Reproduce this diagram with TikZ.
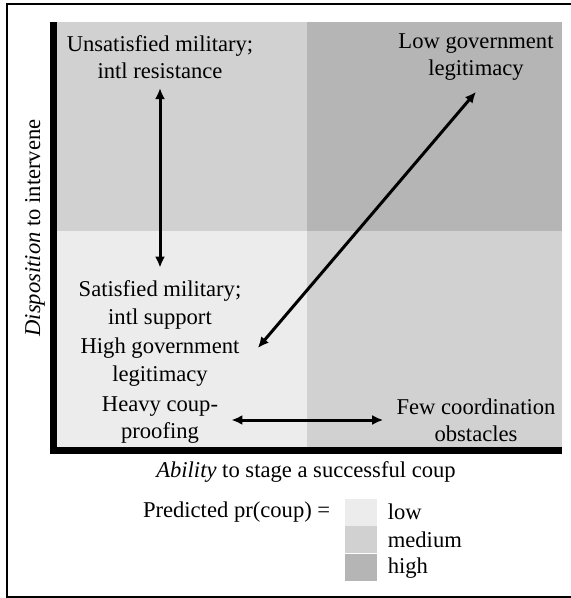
\documentclass[tikz,border=0pt]{standalone}
\usepackage{fontspec}
\setmainfont{Liberation Serif}
\usetikzlibrary{arrows.meta,positioning,calc}
\definecolor{lowpr}{gray}{0.925}
\definecolor{midpr}{gray}{0.82}
\definecolor{highpr}{gray}{0.71}
\begin{document}
\begin{tikzpicture}[x=0.5pt,y=-0.5pt,
  lbl/.style={align=center,font=\fontsize{11.3}{13.6}\selectfont,inner sep=2pt},
  twoway/.style={{Latex[length=5.5pt,width=5pt]}-{Latex[length=5.5pt,width=5pt]},line width=1.5pt},
  key/.style={minimum width=16pt,minimum height=13.5pt,inner sep=0pt}]
\useasboundingbox (0,0) rectangle (570,598);
\draw[line width=1pt] (575,4) -- (7,4) -- (7,597) -- (575,597);
% quadrants
\fill[midpr] (57,22) rectangle (307,231);
\fill[highpr] (307,22) rectangle (562,231);
\fill[lowpr] (57,231) rectangle (307,447);
\fill[midpr] (307,231) rectangle (562,447);
\draw[line width=3.5pt] (53,22) -- (53,450) -- (562,450);
% labels
\node[lbl] (unsat) at (160,57) {Unsatisfied military;\\intl resistance};
\node[lbl] (lowgov) at (476,57) {Low government\\legitimacy};
\node[lbl] (sat) at (160,305) {Satisfied military;\\intl support};
\node[lbl] (highgov) at (160,362) {High government\\legitimacy};
\node[lbl] (heavy) at (160,420) {Heavy coup-\\proofing};
\node[lbl] (few) at (476,420) {Few coordination\\obstacles};
% arrows
\draw[twoway,shorten <=2.5pt,shorten >=4.5pt] (unsat) -- (sat);
\draw[twoway] ($(lowgov.south)+(0,7)$) -- ($(highgov.east)+(14,-14)$);
\draw[twoway,shorten <=4.5pt,shorten >=4.5pt] (heavy) -- (few);
% axes
\node[lbl] (xlab) at (306,472) {\textit{Ability} to stage a successful coup};
\node[lbl,rotate=90] (ylab) at (35,228) {\textit{Disposition} to intervene};
% key
\node[key,fill=lowpr] (keylow) at (361,512) {};
\node[key,fill=midpr,below=0pt of keylow] (keymid) {};
\node[key,fill=highpr,below=0pt of keymid] (keyhigh) {};
\node[lbl,right=3pt of keylow] (low) {low};
\node[lbl,right=3pt of keymid] (medium) {medium};
\node[lbl,right=3pt of keyhigh] (high) {high};
\node[lbl,left=5pt of keylow] (predicted) {Predicted pr(coup) =};
\end{tikzpicture}
\end{document}
